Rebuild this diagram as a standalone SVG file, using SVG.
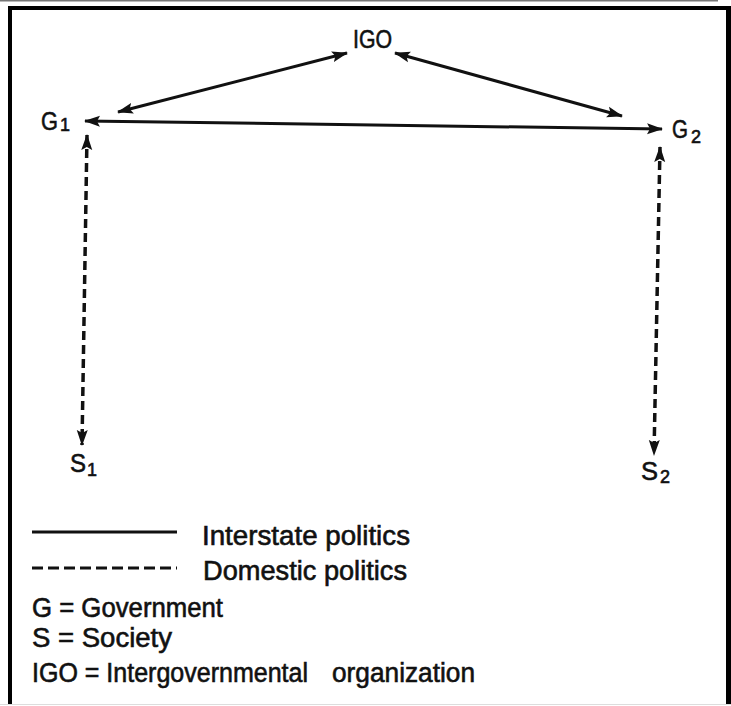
<svg xmlns="http://www.w3.org/2000/svg" width="731" height="706" viewBox="0 0 731 706">
<style>
text{font-family:"Liberation Sans","DejaVu Sans",sans-serif;fill:#111;stroke:#111;stroke-width:0.6}
.lbl{font-size:26px}
.sub{font-size:18px}
.leg{font-size:27px}
.solid{stroke:#111;stroke-width:3;fill:none}
.dash{stroke:#111;stroke-width:3.5;fill:none;stroke-dasharray:9 5}
</style>
<defs>
<marker id="ah" markerUnits="userSpaceOnUse" markerWidth="16" markerHeight="12" refX="15" refY="6" orient="auto-start-reverse">
<path d="M0,0.5 L16,6 L0,11.5 L3,6 z" fill="#111"/>
</marker>
</defs>
<rect x="0" y="0" width="718" height="1.5" fill="#777"/>
<rect x="8" y="6" width="720" height="4" fill="#000"/>
<rect x="8" y="6" width="4" height="698" fill="#000"/>
<rect x="726" y="6" width="5" height="698" fill="#000"/>
<rect x="0" y="704" width="731" height="1" fill="#ddd"/>
<g id="connectors">
<line class="solid" x1="118" y1="112" x2="347" y2="53" marker-start="url(#ah)" marker-end="url(#ah)"/>
<line class="solid" x1="395" y1="53" x2="622" y2="116" marker-start="url(#ah)" marker-end="url(#ah)"/>
<line class="solid" x1="85" y1="121" x2="662" y2="129" marker-start="url(#ah)" marker-end="url(#ah)"/>
<line class="dash" x1="87" y1="135" x2="82" y2="445" marker-start="url(#ah)" marker-end="url(#ah)"/>
<line class="dash" x1="660" y1="147" x2="654" y2="455" marker-start="url(#ah)" marker-end="url(#ah)"/>
</g>
<g id="node-IGO"><text class="lbl" x="353" y="48" textLength="39" lengthAdjust="spacingAndGlyphs">IGO</text></g>
<g id="node-G1"><text class="lbl" x="41" y="130" textLength="17" lengthAdjust="spacingAndGlyphs">G</text><text class="sub" x="60" y="131">1</text></g>
<g id="node-G2"><text class="lbl" x="672" y="138" textLength="16" lengthAdjust="spacingAndGlyphs">G</text><text class="sub" x="691" y="143">2</text></g>
<g id="node-S1"><text class="lbl" x="70" y="472" textLength="16" lengthAdjust="spacingAndGlyphs">S</text><text class="sub" x="87" y="476">1</text></g>
<g id="node-S2"><text class="lbl" x="641" y="480" textLength="17" lengthAdjust="spacingAndGlyphs">S</text><text class="sub" x="660" y="483">2</text></g>
<g id="legend">
<line class="solid" x1="32" y1="532" x2="177" y2="532"/>
<line x1="32" y1="568" x2="177" y2="568" stroke="#111" stroke-width="3" stroke-dasharray="11 5"/>
<text class="leg" x="202" y="545" textLength="208" lengthAdjust="spacingAndGlyphs">Interstate politics</text>
<text class="leg" x="203" y="580" textLength="204" lengthAdjust="spacingAndGlyphs">Domestic politics</text>
<text class="leg" x="32" y="617" textLength="191" lengthAdjust="spacingAndGlyphs">G = Government</text>
<text class="leg" x="32" y="647" textLength="140" lengthAdjust="spacingAndGlyphs">S = Society</text>
<text class="leg" x="32" y="682" textLength="276" lengthAdjust="spacingAndGlyphs">IGO = Intergovernmental</text>
<text class="leg" x="332" y="682" textLength="143" lengthAdjust="spacingAndGlyphs">organization</text>
</g>
</svg>
